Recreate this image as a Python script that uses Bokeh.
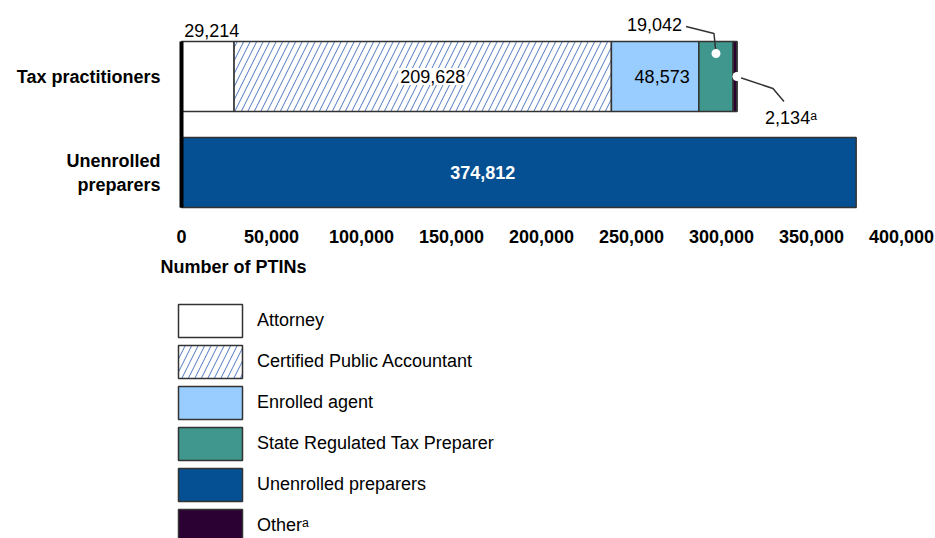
from bokeh.plotting import figure
from bokeh.models import (ColumnDataSource, Range1d, FixedTicker, NumeralTickFormatter,
                          Legend, LegendItem)
from bokeh.core.properties import value
from bokeh.embed import file_html
from bokeh.resources import INLINE

# ---------------- data ----------------
categories = ["Tax practitioners", "Unenrolled\npreparers"]
cat_pos = [1, 0]
series_keys = ["attorney", "cpa", "enrolled", "state_reg", "other", "unenrolled"]
series_labels = ["Attorney", "Certified Public Accountant", "Enrolled agent",
                 "State Regulated Tax Preparer", "Other\u1d43", "Unenrolled preparers"]
attorney = [29214, 0]
cpa = [209628, 0]
enrolled = [48573, 0]
state_reg = [19042, 0]
other = [2134, 0]
unenrolled = [0, 374812]
x_ticks = [0, 50000, 100000, 150000, 200000, 250000, 300000, 350000, 400000]
x_title = "Number of PTINs"

FONT = "Liberation Sans"
colors = ["#ffffff", "#ffffff", "#99ccff", "#3f978d", "#2b0033", "#055092"]
hatches = [" ", "/", " ", " ", " ", " "]
OUT = "#333333"

src = ColumnDataSource(dict(y=cat_pos, attorney=attorney, cpa=cpa, enrolled=enrolled,
                            state_reg=state_reg, other=other, unenrolled=unenrolled))

W, H = 935, 538
PX_PER_X = 1.80 / 1000.0      # pixels per PTIN
PX_PER_Y = 96.0               # pixels per category step
X0_PX, Y1_PX = 181.0, 76.0    # canvas position of x=0 and of the top category
x_start = -X0_PX / PX_PER_X
x_end = (W - X0_PX) / PX_PER_X
y_end = 1 + Y1_PX / PX_PER_Y
y_start = y_end - H / PX_PER_Y

p = figure(width=W, height=H, x_range=Range1d(x_start, x_end), y_range=Range1d(y_start, y_end),
           output_backend="svg", toolbar_location=None,
           min_border_left=0, min_border_right=0, min_border_top=0, min_border_bottom=0)
p.outline_line_color = None
p.grid.visible = False
p.background_fill_color = "white"
p.border_fill_color = "white"

def dx(px):
    return px / PX_PER_X
def dy(px):
    return px / PX_PER_Y

BAR_H = 0.73
rs = p.hbar_stack(series_keys, y="y", height=BAR_H, source=src,
                  fill_color=colors, line_color=OUT, line_width=1.5,
                  hatch_pattern=hatches, hatch_color="#4f78c0", hatch_weight=1,
                  hatch_scale=13)
rmap = dict(zip(series_keys, rs))

# ---------------- axes ----------------
xa = p.xaxis[0]
xa.fixed_location = -0.5
xa.ticker = FixedTicker(ticks=x_ticks)
xa.formatter = NumeralTickFormatter(format="0,0")
xa.axis_line_color = None
xa.major_tick_line_color = None
xa.minor_tick_line_color = None
xa.major_label_text_font = FONT
xa.major_label_text_font_style = "bold"
xa.major_label_text_font_size = "18px"
xa.major_label_text_color = "black"
xa.major_label_standoff = 3

ya = p.yaxis[0]
ya.fixed_location = 0
ya.ticker = FixedTicker(ticks=cat_pos)
ya.major_label_overrides = {pos: lab for pos, lab in zip(cat_pos, categories)}
ya.bounds = (-BAR_H / 2, 1 + BAR_H / 2)
ya.axis_line_color = "black"
ya.axis_line_width = 4
ya.major_tick_line_color = None
ya.minor_tick_line_color = None
ya.major_label_text_font = FONT
ya.major_label_text_font_style = "bold"
ya.major_label_text_font_size = "18px"
ya.major_label_text_color = "black"
ya.major_label_standoff = 15

# ---------------- texts ----------------
def lab(x, y, txt, **kw):
    base = dict(text_font=value(FONT), text_font_size="18px", text_color="black",
                text_align="center", text_baseline="middle")
    base.update(kw)
    p.text(x=[x], y=[y], text=[txt], **base)

lab(0, -0.5, x_title, text_align="left", text_font_style="bold", x_offset=-21, y_offset=46)

tax = {k: v[0] for k, v in zip(series_keys[:5], [attorney, cpa, enrolled, state_reg, other])}
cum = 0
mids = {}
for k in series_keys[:5]:
    mids[k] = cum + tax[k] / 2
    cum += tax[k]
total_tax = cum

lab(mids["attorney"], 1 + BAR_H / 2, f"{attorney[0]:,}", text_baseline="alphabetic",
    y_offset=-11, x_offset=4)
lab(mids["cpa"], 1, f"{cpa[0]:,}", x_offset=10, background_fill_color="white", padding=2)
lab(mids["enrolled"], 1, f"{enrolled[0]:,}", x_offset=7)
lab(unenrolled[1] / 2, 0, f"{unenrolled[1]:,}", text_color="white", text_font_style="bold",
    x_offset=-36)

# leader for State Regulated
sx, sy = mids["state_reg"], 1 + dy(23)
lx = [sx, sx - dx(2), sx - dx(30)]
ly = [sy, sy + dy(20), sy + dy(27)]
p.line(lx, ly, line_color=OUT, line_width=1.5)
p.scatter([sx], [sy], size=9, fill_color="white", line_color=None)
lab(lx[-1], ly[-1], f"{state_reg[0]:,}", text_align="right", x_offset=-4, y_offset=-2)

# leader for Other
ox, oy = total_tax, 1
mx = [ox, ox + dx(36), ox + dx(47)]
my = [oy, oy - dy(12), oy - dy(25)]
p.line(mx, my, line_color=OUT, line_width=1.5)
p.scatter([ox], [oy], size=9, fill_color="white", line_color=None)
lab(mx[-1], my[-1], f"{other[0]:,}\u1d43", text_baseline="top", x_offset=7, y_offset=6)

# ---------------- legend ----------------
order = ["attorney", "cpa", "enrolled", "state_reg", "unenrolled", "other"]
lab_map = dict(zip(series_keys, series_labels))
items = [LegendItem(label=lab_map[k], renderers=[rmap[k]]) for k in order]
legend = Legend(items=items, location=(170, -8), orientation="vertical",
                glyph_width=80, glyph_height=41, spacing=0, label_standoff=7,
                padding=0, margin=0, border_line_color=None, background_fill_alpha=0,
                label_text_font=FONT, label_text_font_size="18px", label_text_color="black",
                label_height=41)
p.add_layout(legend, "center")

open("out.html", "w").write(file_html(p, INLINE))
